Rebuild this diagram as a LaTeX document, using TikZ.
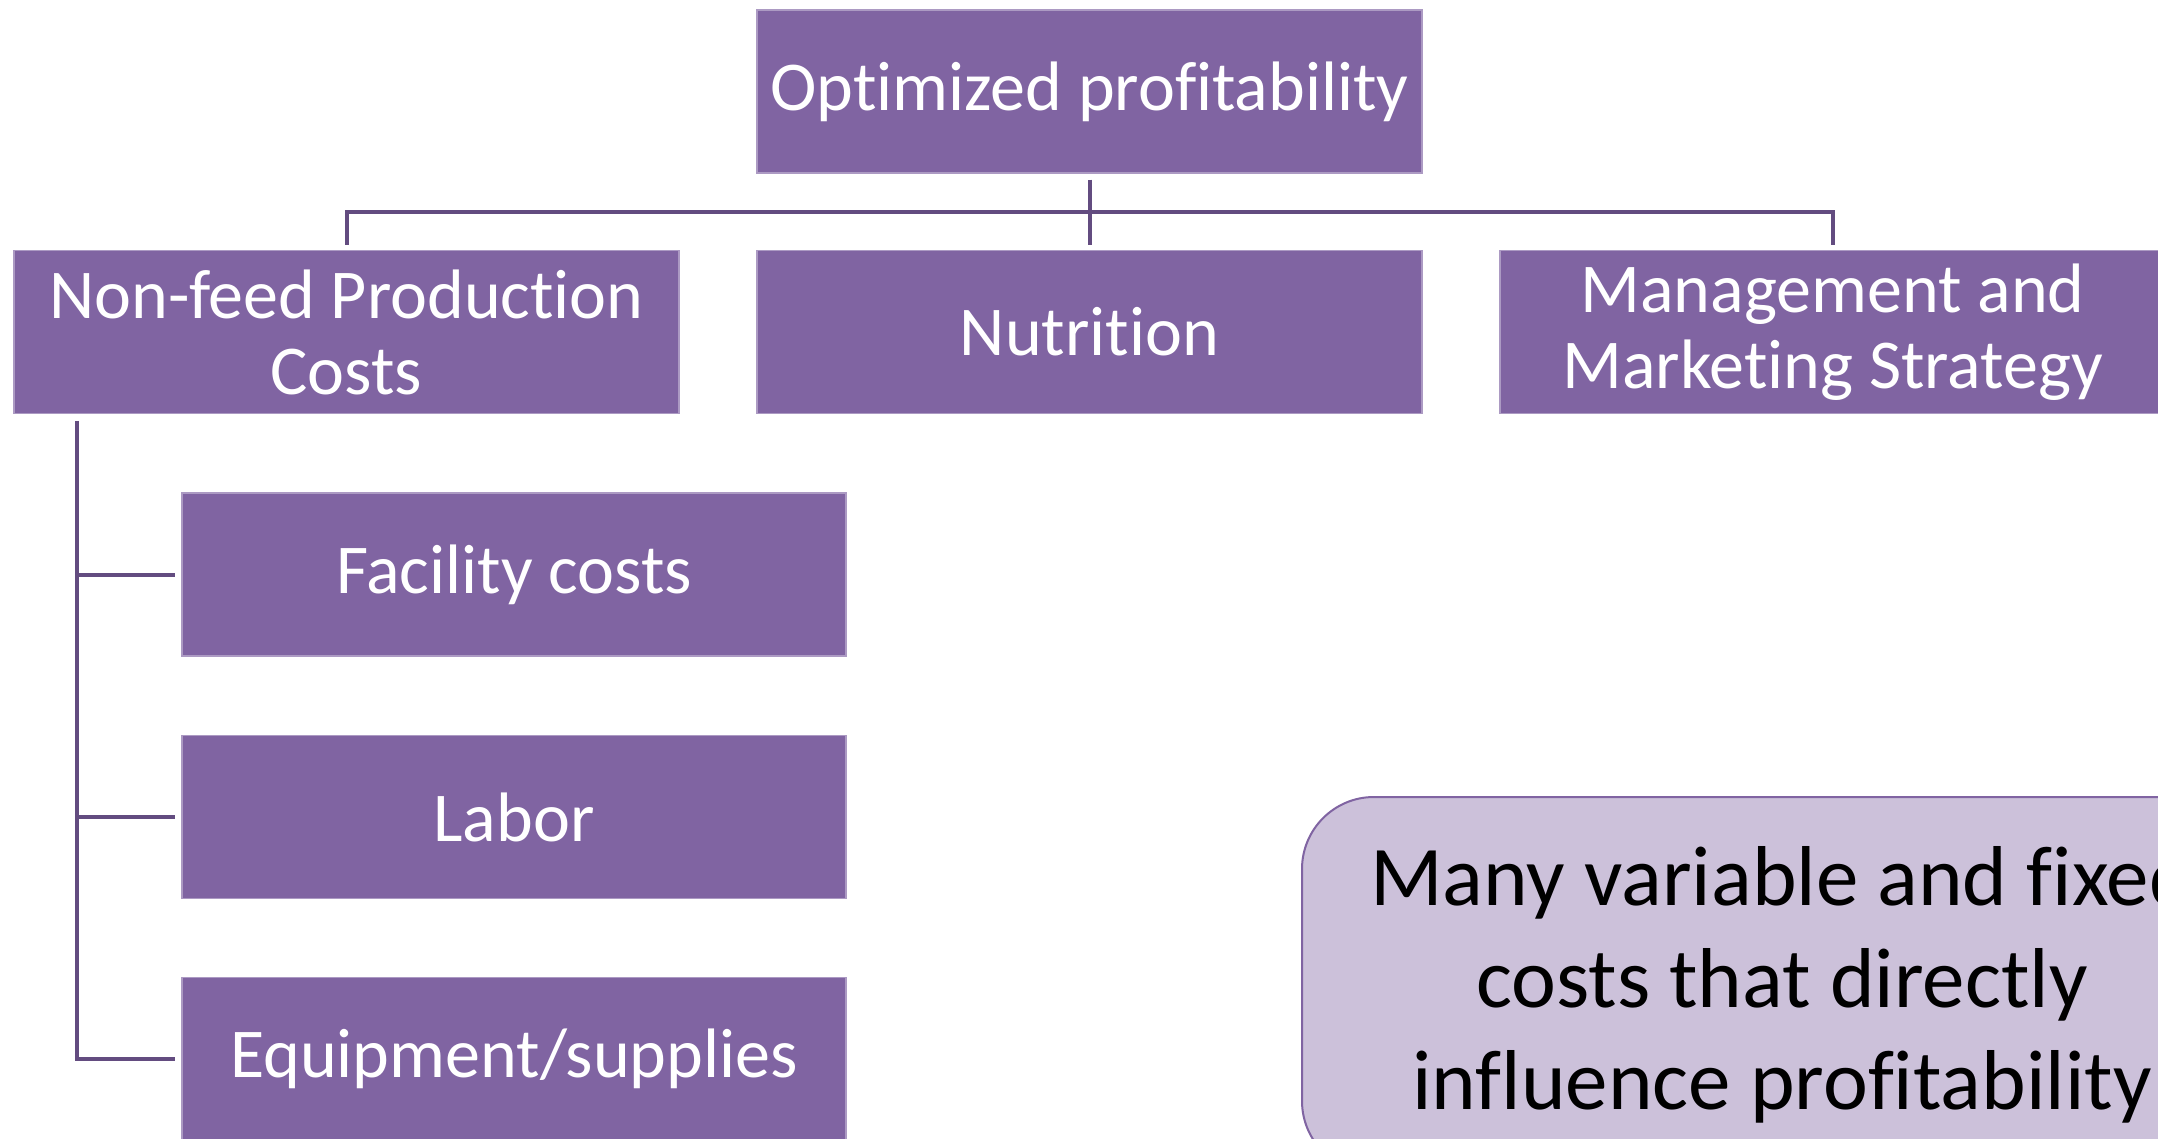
\documentclass[tikz,border=0pt]{standalone}
\usepackage{fontspec}
\setmainfont{Carlito}[Ligatures=NoCommon, Contextuals=NoAlternate]
\definecolor{boxpurple}{HTML}{8064A2}
\definecolor{linkpurple}{HTML}{634C80}
\definecolor{notefill}{HTML}{CCC1DA}
\begin{document}
\begin{tikzpicture}[x=1pt,y=-1pt,
  box/.style={rectangle, fill=boxpurple, draw=white!35!boxpurple, line width=1.2pt,
    minimum width=665pt, minimum height=163pt, inner sep=0pt,
    text=white, align=center, font=\fontsize{70}{76}\selectfont},
  link/.style={draw=linkpurple, line width=4pt, line join=miter},
  note/.style={rectangle, rounded corners=72pt, fill=notefill, draw=boxpurple, line width=2pt,
    minimum width=960pt, minimum height=376pt, inner sep=0pt,
    text=black, align=center, font=\fontsize{85}{102}\selectfont}]
  \useasboundingbox (0,0) rectangle (2158,1139);
  \fill[white] (0,0) rectangle (2158,1139);
  \clip (0,0) rectangle (2158,1139);

  % top level
  \node[box] (top) at (1089.5,91.5) {Optimized profitability};

  % second level
  \node[box] (nf)  at (346.5,332)  {Non-feed Production\\Costs};
  \node[box] (nut) at (1089.5,332) {Nutrition};
  \node[box] (mg)  at (1832.5,332) {Management and\\Marketing Strategy};

  % children of the non-feed branch
  \node[box, minimum width=664pt] (fac) at (514,574.5) {Facility costs};
  \node[box, minimum width=664pt] (lab) at (514,817)   {Labor};
  \node[box, minimum width=664pt] (eqp) at (514,1059)  {Equipment/supplies};

  % side note, running past the right edge
  \node[note] (note) at (1782,985)
    {Many variable and fixed\\costs that directly\\influence profitability};

  % tree connectors
  \coordinate (bus) at (1090,212);
  \draw[link] ([yshift=-6pt]top.south) -- ([yshift=5pt]nut.north);
  \draw[link] ([yshift=5pt]nf.north) |- (bus) -| ([yshift=5pt]mg.north);

  \coordinate (spine) at (77,421);
  \draw[link] (spine) |- ([xshift=-6pt]eqp.west);
  \draw[link] (spine |- fac.west) -- ([xshift=-6pt]fac.west);
  \draw[link] (spine |- lab.west) -- ([xshift=-6pt]lab.west);
\end{tikzpicture}
\end{document}
